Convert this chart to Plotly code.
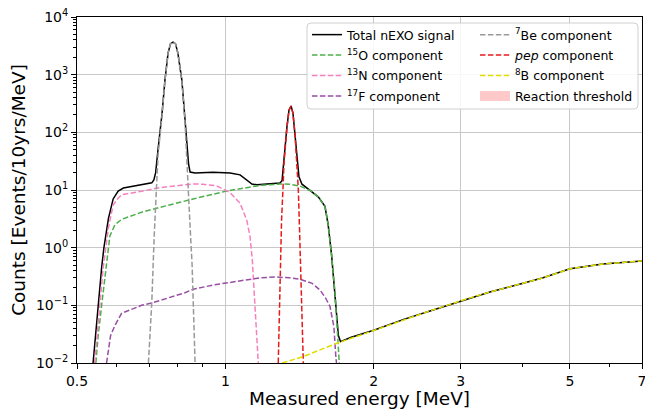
import math
import plotly.graph_objects as go

# ---------------- data ----------------
total_E = [0.539, 0.545, 0.552, 0.561, 0.567, 0.579, 0.592, 0.606, 0.621, 0.658, 0.690, 0.709,
           0.716, 0.722, 0.730, 0.744, 0.754, 0.765, 0.774, 0.783, 0.792, 0.801, 0.816, 0.828,
           0.836, 0.842, 0.848, 0.868, 0.944, 0.975, 1.022, 1.071, 1.106, 1.132, 1.159, 1.22,
           1.290, 1.303, 1.315, 1.333, 1.346, 1.359, 1.371, 1.384, 1.397, 1.410, 1.430, 1.485,
           1.543, 1.592, 1.616, 1.642, 1.668, 1.684, 1.695, 1.712, 1.80, 2.0, 2.3, 2.6, 3.04,
           3.44, 4.0, 4.41, 5.0, 5.83, 7.0]
total_N = [0.01, 0.03, 0.1, 0.45, 1.0, 3.2, 7.0, 9.6, 10.8, 11.8, 12.6, 13.3,
           15.0, 20.0, 50.0, 216, 807, 2371, 3450, 3680, 3450, 2371, 807, 163,
           60, 28, 20.5, 19.8, 20.3, 20.3, 19.7, 18.3, 15.0, 12.7, 12.3, 12.6,
           13.2, 14.5, 37, 124, 244, 286, 216, 97, 37, 17, 12.6, 9.8,
           7.6, 5.2, 2.5, 0.75, 0.17, 0.06, 0.03, 0.0235, 0.028, 0.037, 0.057, 0.08, 0.124,
           0.17, 0.24, 0.30, 0.43, 0.52, 0.59]

o15_E = [0.546, 0.552, 0.561, 0.574, 0.583, 0.597, 0.616, 0.681, 0.760, 0.860, 1.006, 1.105,
         1.175, 1.290, 1.350, 1.417, 1.485, 1.543, 1.592, 1.616, 1.642, 1.668, 1.684, 1.690, 1.702]
o15_N = [0.01, 0.03, 0.1, 0.58, 1.6, 2.5, 3.1, 4.2, 5.4, 7.0, 9.6, 11.0,
         12.0, 12.7, 12.6, 11.7, 9.8, 7.6, 5.2, 2.5, 0.75, 0.17, 0.06, 0.028, 0.01]

n13_E = [0.543, 0.552, 0.565, 0.579, 0.592, 0.606, 0.616, 0.676, 0.737, 0.828, 0.860, 0.900,
         0.960, 1.022, 1.071, 1.105, 1.122, 1.134, 1.148, 1.157, 1.166]
n13_N = [0.01, 0.05, 0.45, 2.2, 5.5, 7.2, 8.3, 9.5, 11.0, 12.3, 12.7, 12.6,
         11.8, 9.0, 5.9, 3.0, 1.55, 0.61, 0.12, 0.042, 0.01]

f17_E = [0.574, 0.585, 0.597, 0.616, 0.676, 0.709, 0.828, 0.860, 0.945, 1.105, 1.175, 1.271,
         1.350, 1.417, 1.500, 1.556, 1.600, 1.630, 1.660, 1.675, 1.680]
f17_N = [0.01, 0.03, 0.045, 0.073, 0.10, 0.11, 0.165, 0.19, 0.225, 0.28, 0.30, 0.31,
         0.30, 0.283, 0.24, 0.184, 0.13, 0.095, 0.0425, 0.013, 0.01]

be7_E = [0.698, 0.709, 0.717, 0.723, 0.730, 0.744, 0.754, 0.765, 0.774, 0.783, 0.792, 0.801,
         0.816, 0.828, 0.834, 0.840, 0.848, 0.856, 0.860, 0.868]
be7_N = [0.01, 0.11, 1.55, 8.0, 40, 200, 790, 2350, 3430, 3680, 3430, 2350,
         790, 150, 50, 15, 2.3, 0.5, 0.16, 0.01]

pep_E = [1.280, 1.290, 1.300, 1.310, 1.315, 1.333, 1.346, 1.359, 1.371, 1.384, 1.397, 1.406,
         1.414, 1.422, 1.439]
pep_N = [0.01, 0.31, 3.0, 13, 30, 120, 240, 286, 214, 95, 28, 10,
         2.0, 0.31, 0.01]

b8_E = [1.303, 1.430, 1.684, 2.0, 2.3, 2.6, 3.04, 3.44, 4.0, 4.41, 5.0, 5.83, 7.0]
b8_N = [0.01, 0.0127, 0.022, 0.037, 0.057, 0.08, 0.124, 0.17, 0.24, 0.30, 0.43, 0.52, 0.59]

x_ticks = [0.5, 1, 2, 3, 5, 7]
x_tick_text = ["0.5", "1", "2", "3", "5", "7"]
x_minor = [0.6, 0.7, 0.8, 0.9, 4, 6]
y_ticks = [1e-2, 1e-1, 1e0, 1e1, 1e2, 1e3, 1e4]
y_tick_text = ["10<sup>\u22122</sup>", "10<sup>\u22121</sup>", "10<sup>0</sup>", "10<sup>1</sup>",
               "10<sup>2</sup>", "10<sup>3</sup>", "10<sup>4</sup>"]
y_minor = [m * 10.0 ** k for k in range(-2, 4) for m in range(2, 10)]

# ---------------- figure ----------------
FONT = "DejaVu Sans"
DASH = "5.5px,2.4px"
fig = go.Figure()

fig.add_trace(go.Scatter(x=total_E, y=total_N, mode="lines", name="Total nEXO signal",
                         line=dict(color="black", width=1.5), legend="legend", legendgroup="a"))

comps = [
    (o15_E, o15_N, "<sup>15</sup>O component", "#4daf4a", "legend", "b"),
    (n13_E, n13_N, "<sup>13</sup>N component", "#f781bf", "legend", "c"),
    (f17_E, f17_N, "<sup>17</sup>F component", "#984ea3", "legend", "d"),
    (be7_E, be7_N, "<sup>7</sup>Be component", "#999999", "legend2", "e"),
    (pep_E, pep_N, "<i>pep</i> component", "#e41a1c", "legend2", "f"),
    (b8_E, b8_N, "<sup>8</sup>B component", "#dede00", "legend2", "g"),
]
for xs, ys, nm, col, lg, grp in comps:
    fig.add_trace(go.Scatter(x=xs, y=ys, mode="lines", name=nm,
                             line=dict(color=col, width=1.5, dash=DASH),
                             legend=lg, legendgroup=grp))

# legend-only entry (no visible region inside the plotted range)
fig.add_trace(go.Scatter(x=[None], y=[None], mode="lines",
                         line=dict(color="#fdc9c9", width=10), name="Reaction threshold",
                         legend="legend2", legendgroup="h"))

# legend frame (rounded box)
x0, x1 = (307 - 77) / 565, (638 - 77) / 565
y0, y1 = (363 - 109) / 346, (363 - 23) / 346
rx, ry = 4 / 565, 4 / 346
path = (f"M{x0+rx},{y1} L{x1-rx},{y1} Q{x1},{y1} {x1},{y1-ry} L{x1},{y0+ry} "
        f"Q{x1},{y0} {x1-rx},{y0} L{x0+rx},{y0} Q{x0},{y0} {x0},{y0+ry} "
        f"L{x0},{y1-ry} Q{x0},{y1} {x0+rx},{y1} Z")
fig.add_shape(type="path", path=path, xref="paper", yref="paper",
              fillcolor="rgba(255,255,255,0.85)", line=dict(color="#d0d0d0", width=1),
              layer="above")

leg_common = dict(font=dict(family=FONT, size=12.5, color="black"), bgcolor="rgba(0,0,0,0)",
                  borderwidth=0, xanchor="left", yanchor="top", tracegroupgap=1.2,
                  orientation="v")
axis_font = dict(family=FONT, size=14, color="black")
eps = 1e-7

fig.update_layout(
    width=645, height=409,
    margin=dict(l=77, r=3, t=17, b=46, autoexpand=False),
    paper_bgcolor="white", plot_bgcolor="white",
    font=dict(family=FONT, color="black"),
    showlegend=True,
    legend=dict(x=(307 - 77) / 565, y=(363 - 20) / 346, **leg_common),
    legend2=dict(x=(475 - 77) / 565, y=(363 - 20) / 346, **leg_common),
    xaxis=dict(type="log", range=[math.log10(0.5) - eps, math.log10(7) + eps],
               tickmode="array", tickvals=x_ticks, ticklabeloverflow="allow",
               ticktext=x_tick_text, ticks="outside", ticklen=5, tickwidth=1, tickcolor="black",
               showline=True, linecolor="black", linewidth=1, mirror=True,
               showgrid=True, gridcolor="#c8c8c8", gridwidth=1, zeroline=False,
               tickfont=axis_font, automargin=False,
               minor=dict(tickmode="array", tickvals=x_minor, ticks="outside", ticklen=3,
                          tickcolor="black", showgrid=False),
               title=dict(text="Measured energy [MeV]", font=dict(family=FONT, size=18.5),
                          standoff=3)),
    yaxis=dict(type="log", range=[-2 - eps, 4 + eps], tickmode="array", tickvals=y_ticks,
               ticktext=y_tick_text, ticks="outside", ticklen=5, tickwidth=1, tickcolor="black",
               showline=True, linecolor="black", linewidth=1, mirror=True,
               showgrid=True, gridcolor="#c8c8c8", gridwidth=1, zeroline=False,
               tickfont=axis_font, automargin=False,
               minor=dict(tickmode="array", tickvals=y_minor, ticks="outside", ticklen=3,
                          tickcolor="black", showgrid=False),
               title=dict(text="Counts [Events/10yrs/MeV]", font=dict(family=FONT, size=18.5),
                          standoff=5)),
)

fig.write_html("out.html", post_script="document.body.style.margin='0';",
               config={"displayModeBar": False})
